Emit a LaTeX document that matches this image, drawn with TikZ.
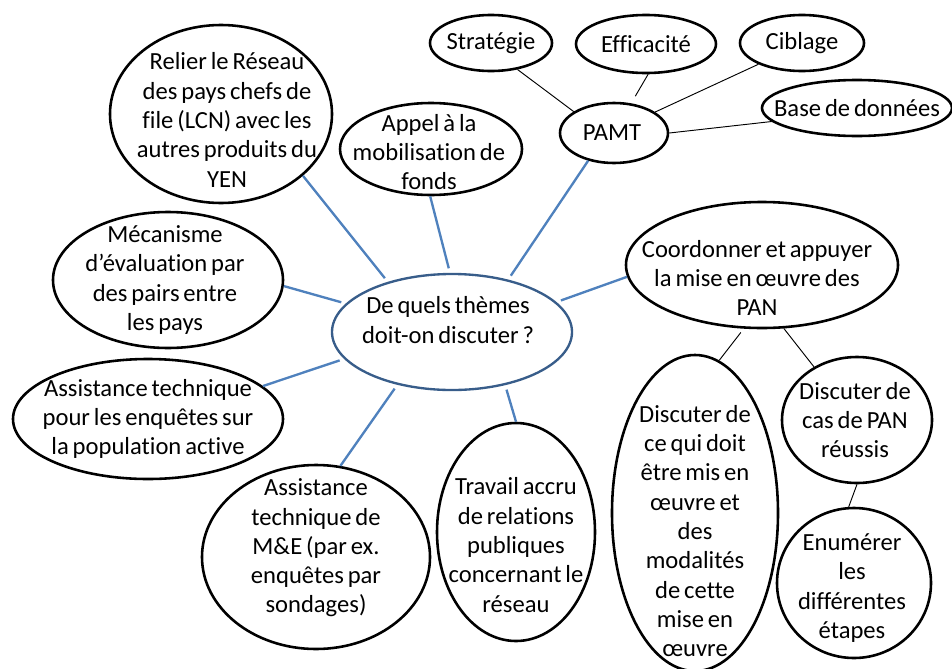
\documentclass[tikz,border=0pt]{standalone}
\usepackage{fontspec}
\setmainfont{Carlito}[WordSpace=0.7, Ligatures=NoCommon]
\usetikzlibrary{shapes.geometric}
\definecolor{bleulien}{HTML}{4F81BD}
\definecolor{bleubord}{HTML}{385D8A}
\tikzset{
    bulle/.style 2 args={
        ellipse, draw=black, line width=2.2pt, fill=white,
        minimum width=#1, minimum height=#2, inner sep=0pt
    },
    centre/.style 2 args={
        bulle={#1}{#2}, draw=bleubord, line width=2pt
    },
    texte/.style={
        font=\fontsize{21}{25}\selectfont, text=black, align=center, inner sep=0pt
    },
    lienbleu/.style={
        draw=bleulien, line width=2pt, shorten <=4pt
    },
    lien/.style={
        draw=black, line width=0.8pt
    },
}

\begin{document}
\begin{tikzpicture}[x=0.03cm, y=-0.03cm]
    \useasboundingbox (0,0) rectangle (952,668);

    % ── Question centrale ──
    \node[centre={7.2cm}{3.48cm}, label={[texte, xshift=-0.12cm, yshift=0.36cm]center:{De quels thèmes\\doit-on discuter ?}}] (c) at (452,332) {};

    % ── Thèmes ──
    \node[bulle={6.66cm}{5.34cm}, label={[texte, xshift=0.18cm, yshift=-0.18cm]center:{Relier le Réseau\\des pays chefs de\\file (LCN) avec les\\autres produits du\\YEN}}] (relier) at (221,114) {};
    \node[bulle={5.46cm}{2.76cm}, label={[texte, xshift=-0.06cm, yshift=-0.09cm]center:{Appel à la\\mobilisation de\\fonds}}] (appel) at (431,149) {};
    \node[bulle={3.24cm}{1.8cm}, label={[texte, xshift=-0.06cm]center:{PAMT}}] (pamt) at (614,133) {};
    \node[bulle={8.16cm}{3.78cm}, label={[texte, xshift=-0.15cm, yshift=-0.39cm]center:{Coordonner et appuyer\\la mise en œuvre des\\PAN}}] (coord) at (762,265) {};
    \node[bulle={6.9cm}{4.08cm}, label={[texte, xshift=-0.09cm]center:{Mécanisme\\d’évaluation par\\des pairs entre\\les pays}}] (meca) at (168,280) {};
    \node[bulle={8.1cm}{3.6cm}, label={[texte]center:{Assistance technique\\pour les enquêtes sur\\la population active}}] (enq) at (148,419) {};
    \node[bulle={6.84cm}{5.52cm}, label={[texte, yshift=0.27cm]center:{Assistance\\technique de\\M\&E (par ex.\\enquêtes par\\sondages)}}] (suivi) at (316,557) {};
    \node[bulle={4.74cm}{6.54cm}, label={[texte, yshift=-0.39cm]center:{Travail accru\\de relations\\publiques\\concernant le\\réseau}}] (travail) at (516,532) {};

    % ── Autour du PAMT ──
    \node[bulle={3.66cm}{1.68cm}, label={[texte]center:{Stratégie}}] (strat) at (491,43) {};
    \node[bulle={4.2cm}{1.74cm}, label={[texte]center:{Efficacité}}] (effic) at (646,44) {};
    \node[bulle={3.72cm}{1.68cm}, label={[texte]center:{Ciblage}}] (cibl) at (802,43) {};
    \node[bulle={5.7cm}{1.68cm}, label={[texte]center:{Base de données}}] (base) at (857,108) {};

    % ── Autour des PAN ──
    \node[bulle={4.98cm}{9.48cm}, label={[texte, yshift=-0.54cm]center:{Discuter de\\ce qui doit\\être mis en\\œuvre et\\des\\modalités\\de cette\\mise en\\œuvre}}] (modal) at (695,513) {};
    \node[bulle={4.5cm}{3.78cm}, label={[texte, xshift=-0.06cm]center:{Discuter de\\cas de PAN\\réussis}}] (cas) at (857,420) {};
    \node[bulle={4.62cm}{4.5cm}, label={[texte, xshift=-0.06cm, yshift=-0.15cm]center:{Enumérer\\les\\différentes\\étapes}}] (etapes) at (854,583) {};

    % ── Liens ──
    \draw[lienbleu] (c.142) -- (relier.-37);
    \draw[lienbleu] (c.92) -- (appel.-91);
    \draw[lienbleu] (c.43) -- (pamt.-133);
    \draw[lienbleu] (c.16) -- (coord.-175);
    \draw[lienbleu] (c.165) -- (meca.-3);
    \draw[lienbleu] (c.-166) -- (enq.16);
    \draw[lienbleu] (c.-136) -- (suivi.75);
    \draw[lienbleu] (c.-45) -- (travail.90);

    \draw[lien] (pamt.152) -- (strat.-45);
    \draw[lien, shorten <=7pt] (pamt.60) -- (effic.-86);
    \draw[lien] (pamt.27) -- (cibl.-154);
    \draw[lien] (pamt.0) -- (base.-171);
    \draw[lien, shorten <=4pt] (coord.-106) -- (modal.81);
    \draw[lien] (coord.-71) -- (cas.129);
    \draw[lien] (cas.-90) -- (etapes.94);

\end{tikzpicture}
\end{document}
